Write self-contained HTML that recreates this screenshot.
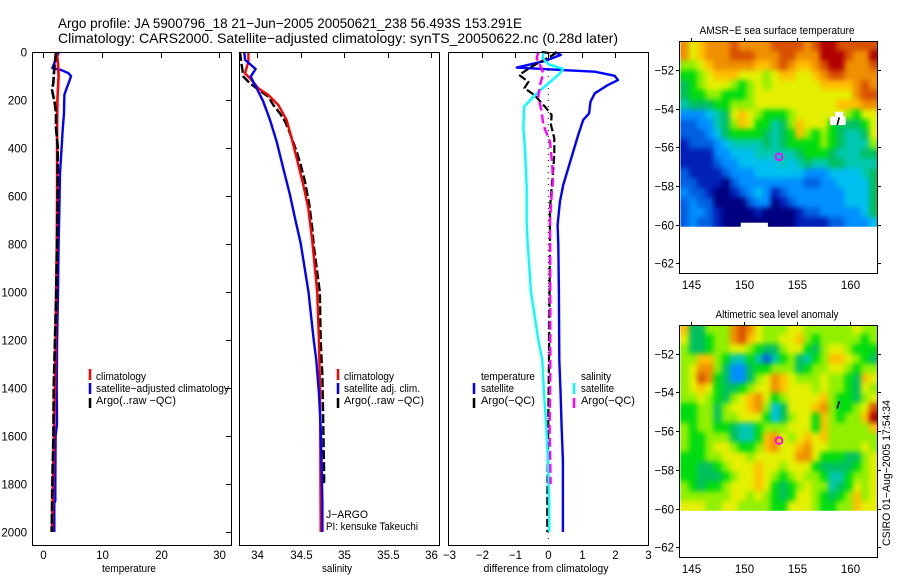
<!DOCTYPE html>
<html lang="en">
<head>
<meta charset="utf-8">
<title>Argo profile JA 5900796_18</title>
<style>
html,body{margin:0;padding:0;background:#fff;}
#chart{display:block;width:900px;height:580px;font-family:"Liberation Sans",sans-serif;fill:#000;}
text{font-family:"Liberation Sans",sans-serif;fill:#000;}
.t{font-size:14px;}
.lab{font-size:11px;}
.tick{font-size:11.5px;}
.frame{fill:none;stroke:#000;stroke-width:1;shape-rendering:crispEdges;}
</style>
</head>
<body>
<svg id="chart" width="900" height="580" viewBox="0 0 900 580" xmlns="http://www.w3.org/2000/svg">
  <defs>
    <filter id="mapSmooth" filterUnits="userSpaceOnUse" x="640" y="0" width="260" height="580" color-interpolation-filters="sRGB">
      <feGaussianBlur stdDeviation="2.6"/>
    </filter>
    <clipPath id="clipSst"><rect x="680.5" y="42" width="197" height="184.7"/></clipPath>
    <clipPath id="clipSla"><rect x="680.5" y="326" width="197" height="184.7"/></clipPath>
  </defs>
  <text class="t" x="58" y="28" textLength="464" lengthAdjust="spacingAndGlyphs">Argo profile: JA 5900796_18 21−Jun−2005 20050621_238 56.493S 153.291E</text>
  <text class="t" x="58" y="43" textLength="560" lengthAdjust="spacingAndGlyphs">Climatology: CARS2000. Satellite−adjusted climatology: synTS_20050622.nc (0.28d later)</text>

  <g id="marks1"></g>
  <g id="marks2"></g>
  <g id="marks3"></g>
  <g clip-path="url(#clipSst)"><g id="map1" filter="url(#mapSmooth)"></g></g>
  <g clip-path="url(#clipSla)"><g id="map2" filter="url(#mapSmooth)"></g></g>
  <g id="mapOverlay"></g>
  <g id="axes"></g>

  <rect class="frame" x="32.5" y="52.5" width="199" height="493"/>
  <rect class="frame" x="239.5" y="52.5" width="200" height="493"/>
  <rect class="frame" x="448.5" y="52.5" width="200" height="493"/>
  <rect class="frame" x="679.5" y="41.5" width="198" height="232"/>
  <rect class="frame" x="679.5" y="325.5" width="198" height="232"/>

  <text class="lab" x="129" y="572" text-anchor="middle" textLength="54" lengthAdjust="spacingAndGlyphs">temperature</text>
  <text class="lab" x="337" y="572" text-anchor="middle" textLength="30" lengthAdjust="spacingAndGlyphs">salinity</text>
  <text class="lab" x="546" y="572" text-anchor="middle" textLength="125" lengthAdjust="spacingAndGlyphs">difference from climatology</text>
  <text class="lab" x="777" y="34" text-anchor="middle" textLength="155" lengthAdjust="spacingAndGlyphs">AMSR−E sea surface temperature</text>
  <text class="lab" x="777" y="318" text-anchor="middle" textLength="123" lengthAdjust="spacingAndGlyphs">Altimetric sea level anomaly</text>
  <text class="lab" transform="translate(890,546) rotate(-90)" x="0" y="0" textLength="146" lengthAdjust="spacingAndGlyphs">CSIRO 01−Aug−2005 17:54:34</text>

  <g>
    <line x1="90" y1="369" x2="90" y2="380" stroke="#f00" stroke-width="2.5"/>
    <line x1="90" y1="383" x2="90" y2="394" stroke="#00f" stroke-width="2.5"/>
    <line x1="90" y1="398" x2="90" y2="408" stroke="#000" stroke-width="2.5"/>
    <text class="lab" x="96" y="380" textLength="50" lengthAdjust="spacingAndGlyphs">climatology</text>
    <text class="lab" x="96" y="392" textLength="133" lengthAdjust="spacingAndGlyphs">satellite−adjusted climatology</text>
    <text class="lab" x="96" y="404" textLength="80" lengthAdjust="spacingAndGlyphs">Argo(..raw −QC)</text>
  </g>
  <g>
    <line x1="338" y1="369" x2="338" y2="380" stroke="#f00" stroke-width="2.5"/>
    <line x1="338" y1="383" x2="338" y2="394" stroke="#00f" stroke-width="2.5"/>
    <line x1="338" y1="398" x2="338" y2="408" stroke="#000" stroke-width="2.5"/>
    <text class="lab" x="344" y="380" textLength="50" lengthAdjust="spacingAndGlyphs">climatology</text>
    <text class="lab" x="344" y="392" textLength="76" lengthAdjust="spacingAndGlyphs">satellite adj. clim.</text>
    <text class="lab" x="344" y="404" textLength="80" lengthAdjust="spacingAndGlyphs">Argo(..raw −QC)</text>
    <text class="lab" x="326" y="518" textLength="42" lengthAdjust="spacingAndGlyphs">J−ARGO</text>
    <text class="lab" x="326" y="530" textLength="92" lengthAdjust="spacingAndGlyphs">PI: kensuke Takeuchi</text>
  </g>
  <g>
    <line x1="474" y1="383" x2="474" y2="394" stroke="#00f" stroke-width="2.5"/>
    <line x1="474" y1="398" x2="474" y2="408" stroke="#000" stroke-width="2.5"/>
    <line x1="574" y1="383" x2="574" y2="394" stroke="#0ff" stroke-width="2.5"/>
    <line x1="574" y1="398" x2="574" y2="408" stroke="#f0f" stroke-width="2.5"/>
    <text class="lab" x="481" y="380" textLength="54" lengthAdjust="spacingAndGlyphs">temperature</text>
    <text class="lab" x="481" y="392" textLength="33" lengthAdjust="spacingAndGlyphs">satellite</text>
    <text class="lab" x="481" y="404" textLength="54" lengthAdjust="spacingAndGlyphs">Argo(−QC)</text>
    <text class="lab" x="581" y="380" textLength="30" lengthAdjust="spacingAndGlyphs">salinity</text>
    <text class="lab" x="581" y="392" textLength="33" lengthAdjust="spacingAndGlyphs">satellite</text>
    <text class="lab" x="581" y="404" textLength="54" lengthAdjust="spacingAndGlyphs">Argo(−QC)</text>
  </g>
</svg>
<script>
// ---- tick labels ----
var depthTicks = [0, 200, 400, 600, 800, 1000, 1200, 1400, 1600, 1800, 2000];
var tempTicks = [0, 10, 20, 30];
var salTicks = [34, 34.5, 35, 35.5, 36];
var diffTicks = [-3, -2, -1, 0, 1, 2, 3];
var lonTicks = [145, 150, 155, 160];
var latTicks = [-52, -54, -56, -58, -60, -62];

// ---- temperature panel ----
var climTempDepth = [0, 50, 100, 150, 200, 300, 400, 500, 600, 800, 1000, 1200, 1400, 1600, 1800, 2000];
var climTempValue = [2.3, 2.5, 2.6, 2.5, 2.4, 2.35, 2.35, 2.35, 2.35, 2.3, 2.2, 2.1, 2.0, 1.8, 1.65, 1.5];
var satTempDepth = [0, 67, 76, 88, 101, 122, 150, 178, 254, 324, 420, 504, 671, 800, 1000, 1200, 1400, 1550, 1600, 1800, 1870, 1880, 2000];
var satTempValue = [2.67, 1.54, 3.13, 4.26, 4.72, 4.43, 3.98, 3.59, 3.53, 3.3, 3.07, 2.85, 2.73, 2.6, 2.5, 2.35, 2.28, 2.33, 2.1, 2.05, 2.05, 1.88, 1.88];
var argoTempDepth = [0, 67, 130, 158, 212, 254, 317, 393, 640, 1000, 1400, 1600, 1800, 2000];
var argoTempValue = [2.16, 1.87, 1.7, 1.48, 1.94, 2.16, 2.16, 2.45, 2.45, 2.2, 1.77, 1.72, 1.54, 1.43];

// ---- salinity panel ----
var climSalDepth = [0, 40, 89, 110, 151, 179, 221, 283, 360, 443, 554, 651, 790, 1000, 1200, 1400, 2000];
var climSalValue = [33.897, 33.897, 33.858, 33.916, 34.012, 34.127, 34.242, 34.338, 34.396, 34.454, 34.53, 34.588, 34.634, 34.69, 34.71, 34.722, 34.73];
var satSalDepth = [0, 33, 71, 103, 151, 207, 283, 374, 485, 596, 693, 797, 1000, 1200, 1283, 1422, 1561, 1700, 1880, 2000];
var satSalValue = [33.85, 33.86, 33.98, 33.924, 33.993, 34.069, 34.146, 34.223, 34.3, 34.377, 34.434, 34.5, 34.59, 34.65, 34.68, 34.71, 34.73, 34.74, 34.75, 34.75];
var argoSalDepth = [0, 54, 103, 131, 151, 186, 221, 256, 290, 339, 415, 471, 540, 638, 735, 804, 1000, 1200, 1352, 1561, 1755, 1800];
var argoSalValue = [33.8, 33.82, 33.84, 33.916, 33.99, 34.127, 34.184, 34.26, 34.32, 34.377, 34.454, 34.5, 34.55, 34.6, 34.634, 34.65, 34.72, 34.73, 34.75, 34.76, 34.77, 34.77];

// ---- difference panel ----
var diffDepthZero = [0, 2050];
var diffValueZero = [0, 0];
var tempSatDepth = [0, 12, 37, 65, 76, 82, 99, 117, 137, 172, 207, 256, 283, 346, 415, 485, 554, 624, 721, 800, 1000, 1283, 1422, 1561, 1700, 2000];
var tempSatValue = [0.2, 0.38, -0.1, -0.95, 0.5, 1.4, 2.0, 2.1, 1.8, 1.4, 1.27, 1.23, 1.05, 0.9, 0.75, 0.6, 0.45, 0.35, 0.28, 0.3, 0.32, 0.33, 0.37, 0.4, 0.44, 0.44];
var tempArgoDepth = [0, 8, 61, 96, 124, 151, 179, 228, 262, 304, 360, 429, 485, 568, 651, 800, 1283, 1880, 2000];
var tempArgoValue = [-0.2, 0.2, -0.5, -0.88, -0.6, -0.72, -0.42, -0.1, 0.1, 0.08, 0.18, 0.18, 0.15, 0.1, 0.05, 0.05, 0.02, -0.03, -0.03];
var salSatDepth = [0, 26, 51, 71, 96, 131, 179, 228, 318, 415, 568, 714, 800, 1000, 1200, 1283, 1422, 1561, 1700, 1866, 2000];
var salSatValue = [-0.15, -0.17, 0, 0.45, 0.3, 0, -0.4, -0.73, -0.75, -0.7, -0.65, -0.65, -0.62, -0.52, -0.3, -0.18, -0.13, -0.06, -0.01, 0.02, 0.03];
var salArgoDepth = [0, 26, 54, 89, 137, 186, 249, 304, 374, 471, 540, 596, 707, 1000, 1352, 1561, 1800];
var salArgoValue = [-0.3, -0.35, -0.25, -0.15, -0.25, -0.3, -0.2, -0.15, 0.05, 0.12, 0.14, 0.1, 0.05, 0.06, 0.06, 0.04, 0.07];

// ---- map values (colour levels) ----
var profileLon = [153.291];
var profileLat = [-56.493];
var sstLevels = [
[11,9,10,11,11,11,12,11,11,11,11,12,12,12,12,11,12,13,13,12,12,12,12,12],
[11,9,10,11,11,11,12,12,12,11,11,11,12,12,11,11,11,13,13,13,12,11,11,13],
[8,8,9,10,11,11,11,11,11,10,10,11,12,11,10,10,11,12,13,13,11,11,11,12],
[7,7,8,9,10,10,10,9,9,9,8,9,10,10,9,9,10,11,12,12,11,11,11,11],
[6,7,8,9,9,9,8,7,8,9,8,9,9,9,9,9,9,10,10,10,10,11,12,11],
[6,7,7,8,8,7,7,7,8,9,9,9,9,9,9,9,9,9,9,9,9,11,12,12],
[5,6,6,6,7,7,8,8,8,9,9,9,9,9,9,9,9,9,9,10,10,10,11,11],
[3,3,3,4,5,6,9,10,9,8,7,7,7,8,9,9,9,9,9,9,8,7,9,9],
[2,2,3,3,5,6,8,10,9,7,7,5,6,8,10,9,9,9,7,6,6,6,7,9],
[2,2,2,3,4,6,7,7,7,7,6,5,6,7,10,8,7,8,7,6,5,5,6,9],
[1,2,2,2,3,4,5,5,5,5,6,5,6,7,7,7,7,8,7,6,5,5,5,8],
[1,1,1,1,3,3,4,4,4,5,5,5,5,5,6,7,7,7,6,5,5,5,6,6],
[1,1,1,1,2,3,3,4,4,4,4,4,5,4,5,6,5,5,6,6,5,5,5,5],
[2,1,1,1,1,2,3,3,3,4,4,4,4,4,4,3,3,3,4,4,4,4,5,6],
[2,2,1,1,1,0,2,3,3,3,3,3,3,3,3,2,2,3,3,4,4,4,4,6],
[3,2,2,1,0,0,1,2,3,4,3,1,2,3,3,3,3,3,3,3,4,4,4,6],
[2,3,2,2,0,0,0,0,2,3,3,0,1,2,3,3,3,3,3,3,4,4,4,6],
[2,3,3,2,1,0,0,0,0,1,0,0,0,0,1,2,2,3,3,3,3,3,4,6],
[2,3,2,2,1,0,0,0,0,0,0,0,0,0,1,1,1,1,2,2,3,3,3,4]
];
var slaLevels = [
[10,6,6,8,8,8,11,12,11,9,8,8,8,9,9,8,8,8,8,8,8,9,8,8],
[9,6,6,7,8,8,11,12,10,9,8,8,9,9,10,8,7,8,8,8,8,8,7,8],
[8,6,6,7,8,8,9,9,8,7,6,6,8,9,9,7,6,8,9,9,8,7,7,7],
[8,8,10,10,8,7,5,5,7,5,2,5,7,8,6,5,7,8,10,10,9,8,7,6],
[8,9,11,11,8,6,3,3,6,7,7,8,8,8,6,7,8,8,9,9,8,7,8,8],
[8,9,12,11,7,6,3,3,6,8,9,11,10,9,8,8,8,9,8,8,7,6,10,9],
[8,9,10,9,7,6,6,7,8,9,9,11,10,9,9,9,8,9,8,8,7,6,9,8],
[8,8,9,8,7,6,8,9,10,11,9,7,8,9,9,9,9,10,8,7,7,6,8,9],
[7,7,8,8,6,8,9,9,10,11,8,4,6,9,9,9,10,11,8,7,7,8,9,12],
[7,7,8,8,6,8,8,9,9,9,7,4,6,8,9,9,7,10,8,7,8,8,10,13],
[8,7,8,8,7,7,6,5,5,7,8,8,8,9,9,9,7,10,8,8,8,8,8,10],
[8,7,7,8,8,8,6,5,5,7,10,11,9,8,9,10,9,10,8,8,8,8,8,8],
[8,7,7,8,9,9,8,7,7,8,10,11,9,9,10,11,9,9,8,8,8,8,9,8],
[7,7,7,8,8,9,9,9,8,9,9,9,9,9,11,11,9,7,7,7,6,6,8,9],
[7,7,6,6,7,8,9,9,9,10,9,9,8,9,9,9,7,6,6,6,6,7,8,9],
[7,7,6,6,6,7,8,9,9,10,9,8,7,8,9,8,8,7,5,5,7,8,8,9],
[8,7,6,7,7,8,9,9,9,10,9,7,6,7,8,9,8,8,5,6,7,9,8,9],
[8,8,8,8,8,8,9,9,8,9,8,7,6,7,9,9,8,7,6,7,8,10,8,9],
[9,9,9,8,8,9,9,8,8,8,8,7,7,9,9,9,8,7,7,8,8,10,9,9]
];

var NS = 'http://www.w3.org/2000/svg';
function make(tag, attrs, parent) {
  var el = document.createElementNS(NS, tag);
  for (var k in attrs) el.setAttribute(k, attrs[k]);
  parent.appendChild(el);
  return el;
}
function fmt(v) { return String(v).replace('-', '\u2212'); }

// axis functions
function yDepth(d) { return 52 + d * 0.24; }
function xTemp(v) { return 43.3 + v * 5.87; }
function xSal(v) { return 257.3 + (v - 34) * 86.8; }
function xDiff(v) { return 548.3 + v * 33.2; }
function xLon(v) { return 690.7 + (v - 145) * 10.65; }
function yLat1(v) { return 70 + (-52 - v) * 19.33; }
function yLat2(v) { return 353.5 + (-52 - v) * 19.38; }

var palette = ['#000080', '#0020b8', '#0060e0', '#0090ff', '#00c0f0', '#00c8b0', '#00c060', '#00dc10', '#90f000', '#e4f000', '#ffc000', '#f09000', '#d85000', '#b00000'];

function drawLine(parent, depths, values, xFn, color, width, dash) {
  var pts = depths.map(function (d, i) { return xFn(values[i]).toFixed(1) + ',' + yDepth(d).toFixed(1); }).join(' ');
  var attrs = { points: pts, fill: 'none', stroke: color, 'stroke-width': width, 'stroke-linejoin': 'round' };
  if (dash) attrs['stroke-dasharray'] = dash;
  return make('polyline', attrs, parent);
}

// temperature series
var g1 = document.getElementById('marks1');
var l;
l = drawLine(g1, satTempDepth, satTempValue, xTemp, '#00f', 2.4);


l = drawLine(g1, climTempDepth, climTempValue, xTemp, '#f00', 2.6);


l = drawLine(g1, argoTempDepth, argoTempValue, xTemp, '#000', 2.6, '10 2.5');



// salinity series
var g2 = document.getElementById('marks2');
l = drawLine(g2, argoSalDepth, argoSalValue, xSal, '#000', 2.4, '9 3');


l = drawLine(g2, climSalDepth, climSalValue, xSal, '#f00', 2.4);


l = drawLine(g2, satSalDepth, satSalValue, xSal, '#00f', 2.4);



// difference series
var g3 = document.getElementById('marks3');
l = drawLine(g3, diffDepthZero, diffValueZero, xDiff, '#000', 1, '1 5');


l = drawLine(g3, tempSatDepth, tempSatValue, xDiff, '#00f', 2.4);


l = drawLine(g3, tempArgoDepth, tempArgoValue, xDiff, '#000', 2.2, '8 3');


l = drawLine(g3, salSatDepth, salSatValue, xDiff, '#0ff', 2.4);


l = drawLine(g3, salArgoDepth, salArgoValue, xDiff, '#f0f', 2.4, '9 4');



// heatmaps: edge cells overhang the clip so the smoothing filter does not fade at the borders
var lonStart = 144.06, lonEnd = 162.52, latStart = -50.5, latEnd = -60.12;
var edgePad = 12;
function drawMap(parent, levels, yFn) {
  var rows = levels.length;
  levels.forEach(function (row, r) {
    var cols = row.length;
    row.forEach(function (v, c) {
      var x0 = xLon(lonStart + (lonEnd - lonStart) * c / cols);
      var x1 = xLon(lonStart + (lonEnd - lonStart) * (c + 1) / cols);
      var y0 = yFn(latStart + (latEnd - latStart) * r / rows);
      var y1 = yFn(latStart + (latEnd - latStart) * (r + 1) / rows);
      if (c === 0) x0 -= edgePad;
      if (c === cols - 1) x1 += edgePad;
      if (r === 0) y0 -= edgePad;
      if (r === rows - 1) y1 += edgePad;
      var cell = make('rect', { x: x0.toFixed(2), y: y0.toFixed(2), width: (x1 - x0 + 0.4).toFixed(2), height: (y1 - y0 + 0.4).toFixed(2), fill: palette[v] }, parent);
      
      
    });
  });
}
drawMap(document.getElementById('map1'), sstLevels, yLat1);
drawMap(document.getElementById('map2'), slaLevels, yLat2);

var ov = document.getElementById('mapOverlay');
// missing-data strip, ice/land gap and land sliver on the maps
var gap = make('rect', { x: xLon(149.7), y: yLat1(-59.9), width: xLon(152.25) - xLon(149.7), height: yLat1(-60.2) - yLat1(-59.9), fill: '#fff' }, ov);


var gapA = make('rect', { x: xLon(158.55), y: yLat1(-54.16), width: xLon(159.33) - xLon(158.55), height: yLat1(-54.41) - yLat1(-54.16), fill: '#fff' }, ov);


var gapB = make('rect', { x: xLon(158.08), y: yLat1(-54.41), width: xLon(159.55) - xLon(158.08), height: yLat1(-54.85) - yLat1(-54.41), fill: '#fff' }, ov);


var sl1 = make('line', { x1: xLon(158.95), y1: yLat1(-54.45), x2: xLon(158.75), y2: yLat1(-54.85), stroke: '#000', 'stroke-width': 1.6 }, ov);


var sl2 = make('line', { x1: xLon(158.95), y1: yLat2(-54.45), x2: xLon(158.75), y2: yLat2(-54.85), stroke: '#000', 'stroke-width': 1.6 }, ov);



// profile location markers
var c1 = make('circle', { cx: xLon(profileLon[0]), cy: yLat1(profileLat[0]), r: 3.4, fill: 'none', stroke: '#f0f', 'stroke-width': 1.8 }, ov);


var c2 = make('circle', { cx: xLon(profileLon[0]), cy: yLat2(profileLat[0]), r: 3.4, fill: 'none', stroke: '#f0f', 'stroke-width': 1.8 }, ov);



// axes
var axes = document.getElementById('axes');
function tickLine(x1, y1, x2, y2) {
  return make('line', { x1: x1, y1: y1, x2: x2, y2: y2, stroke: '#000', 'stroke-width': 1, 'shape-rendering': 'crispEdges' }, axes);
}
function tickText(txt, x, y, anchor) {
  var t = make('text', { x: x, y: y, 'text-anchor': anchor, 'class': 'tick' }, axes);
  t.textContent = txt;
  return t;
}
depthTicks.forEach(function (d) {
  var y = Math.round(yDepth(d)) + 0.5;
  var t = tickText(String(d), 27, y + 4, 'end');
  
  
  if (d === 0) return;
  var m = tickLine(226, y, 231, y);
  
  
});
tempTicks.forEach(function (v) {
  var x = Math.round(xTemp(v)) + 0.5;
  var m = tickLine(x, 53, x, 58);
  
  
  var t = tickText(fmt(v), x, 559, 'middle');
  
  
});
salTicks.forEach(function (v) {
  var x = Math.round(xSal(v)) + 0.5;
  var m = tickLine(x, 53, x, 58);
  
  
  var t = tickText(fmt(v), x, 559, 'middle');
  
  
});
diffTicks.forEach(function (v) {
  var x = Math.round(xDiff(v)) + 0.5;
  if (v > -3 && v < 3) {
    var m = tickLine(x, 53, x, 58);
    
    
  }
  var t = tickText(fmt(v), x, 559, 'middle');
  
  
});
lonTicks.forEach(function (v) {
  var x = Math.round(xLon(v)) + 0.5;
  var a = tickLine(x, 38, x, 41);
  
  
  var b = tickLine(x, 322, x, 325);
  
  
  var t1 = tickText(String(v), x, 289, 'middle');
  
  
  var t2 = tickText(String(v), x, 573, 'middle');
  
  
});
latTicks.forEach(function (v) {
  var y1 = Math.round(yLat1(v)) + 0.5;
  var y2 = Math.round(yLat2(v)) + 0.5;
  var a = tickLine(676, y1, 679, y1);
  
  
  var b = tickLine(878, y1, 881, y1);
  
  
  var c = tickLine(676, y2, 679, y2);
  
  
  var d = tickLine(878, y2, 881, y2);
  
  
  var t1 = tickText(fmt(v), 674, y1 + 4, 'end');
  
  
  var t2 = tickText(fmt(v), 674, y2 + 4, 'end');
  
  
});
</script>
</body>
</html>
